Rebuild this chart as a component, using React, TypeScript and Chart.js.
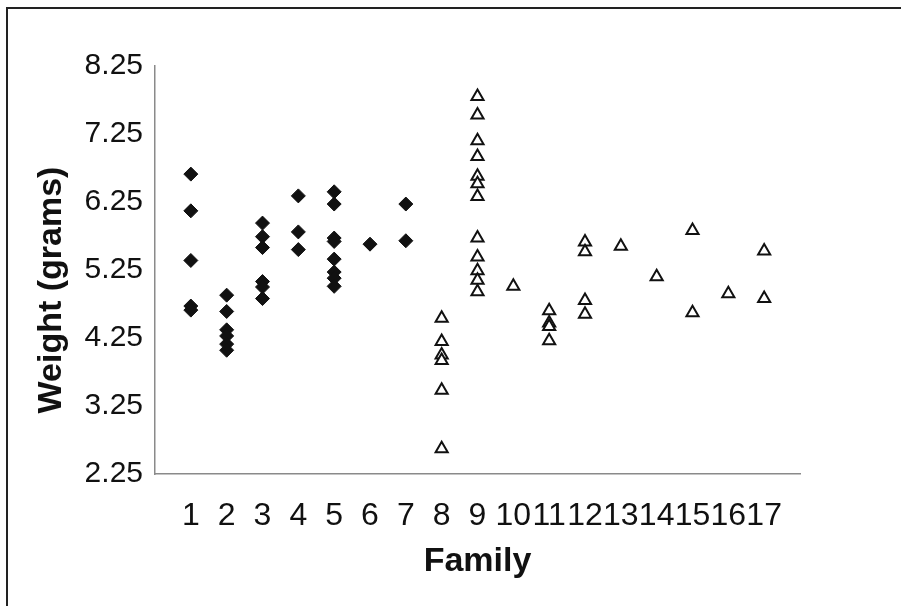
import React, { useEffect, useRef } from "react";
import { Chart, registerables } from "chart.js";

Chart.register(...registerables);

// Weight (grams) per family
const family1 = [6.66, 6.12, 5.39, 4.72, 4.66];
const family2 = [4.88, 4.64, 4.37, 4.28, 4.16, 4.07];
const family3 = [5.94, 5.74, 5.58, 5.08, 5.0, 4.83];
const family4 = [6.34, 5.81, 5.55];
const family5 = [6.4, 6.22, 5.72, 5.67, 5.41, 5.22, 5.13, 5.01];
const family6 = [5.63];
const family7 = [6.22, 5.68];
const family8 = [4.54, 4.2, 4.0, 3.92, 3.48, 2.62];
const family9 = [7.8, 7.53, 7.15, 6.92, 6.63, 6.52, 6.33, 5.72, 5.44, 5.24, 5.1, 4.93];
const family10 = [5.01];
const family11 = [4.65, 4.47, 4.42, 4.21];
const family12 = [5.66, 5.52, 4.8, 4.6];
const family13 = [5.6];
const family14 = [5.15];
const family15 = [5.83, 4.62];
const family16 = [4.9];
const family17 = [5.53, 4.83];

const diamondFamilies = [family1, family2, family3, family4, family5, family6, family7];
const triangleFamilies = [family8, family9, family10, family11, family12, family13, family14, family15, family16, family17];

const familyTicks = [1, 2, 3, 4, 5, 6, 7, 8, 9, 10, 11, 12, 13, 14, 15, 16, 17];
const weightTicks = [2.25, 3.25, 4.25, 5.25, 6.25, 7.25, 8.25];

const xTitle = "Family";
const yTitle = "Weight (grams)";

const FONT = "'Liberation Sans', Arial, Helvetica, sans-serif";

function toPoints(groups: number[][], firstFamily: number) {
  const pts: { x: number; y: number }[] = [];
  groups.forEach((g, i) => {
    g.forEach((w) => pts.push({ x: firstFamily + i, y: w }));
  });
  return pts;
}

// y-axis title, drawn a little below the axis centre as in the reference
const yTitlePlugin = {
  id: "yTitlePlugin",
  afterDraw(chart: any) {
    const ctx = chart.ctx;
    ctx.save();
    ctx.translate(52, 290);
    ctx.rotate(-Math.PI / 2);
    ctx.font = `bold 34px ${FONT}`;
    ctx.fillStyle = "#111";
    ctx.textAlign = "center";
    ctx.textBaseline = "middle";
    ctx.fillText(yTitle, 0, 0);
    ctx.restore();
  },
};

export default function App() {
  const ref = useRef<HTMLCanvasElement | null>(null);

  useEffect(() => {
    if (!ref.current) return;
    const chart = new Chart(ref.current, {
      type: "scatter",
      data: {
        datasets: [
          {
            label: "Families 1-7",
            data: toPoints(diamondFamilies, 1),
            pointStyle: "rectRot",
            pointRadius: 7,
            backgroundColor: "#111",
            borderColor: "#111",
            borderWidth: 1,
          },
          {
            label: "Families 8-17",
            data: toPoints(triangleFamilies, 8),
            pointStyle: "triangle",
            pointRadius: 7,
            backgroundColor: "#fff",
            borderColor: "#111",
            borderWidth: 2,
          },
        ],
      },
      options: {
        responsive: false,
        animation: false,
        layout: { padding: { top: 66, right: 101, left: 0, bottom: 0 } },
        plugins: {
          legend: { display: false },
          tooltip: { enabled: false },
        },
        scales: {
          x: {
            type: "linear",
            min: 0,
            max: 18,
            grid: { display: false, drawTicks: false },
            border: { display: true, color: "#8a8a8a", width: 1.5 },
            afterFit: (s: any) => {
              s.height = 132;
            },
            afterBuildTicks: (s: any) => {
              s.ticks = familyTicks.map((v) => ({ value: v }));
            },
            ticks: {
              padding: 23,
              color: "#111",
              font: { family: FONT, size: 32 },
              autoSkip: false,
              maxRotation: 0,
              callback: (v: any) => String(v),
            },
            title: {
              display: true,
              text: xTitle,
              color: "#111",
              font: { family: FONT, size: 34, weight: "bold" },
              padding: { top: 0, bottom: 24 },
            },
          },
          y: {
            type: "linear",
            min: 2.25,
            max: 8.25,
            grid: { display: false, drawTicks: false },
            border: { display: true, color: "#8a8a8a", width: 1.5 },
            afterFit: (s: any) => {
              s.width = 155;
            },
            afterBuildTicks: (s: any) => {
              s.ticks = weightTicks.map((v) => ({ value: v }));
            },
            ticks: {
              padding: 12,
              color: "#111",
              font: { family: FONT, size: 30 },
              callback: (v: any) => Number(v).toFixed(2),
            },
            title: { display: false, text: yTitle },
          },
        },
      },
      plugins: [yTitlePlugin],
    });
    return () => chart.destroy();
  }, []);

  return (
    <div
      style={{
        position: "absolute",
        left: 0,
        top: 0,
        width: 901,
        height: 606,
        background: "#fff",
        overflow: "hidden",
      }}
    >
      <div
        style={{
          position: "absolute",
          left: 6,
          top: 7,
          width: 900,
          height: 605,
          borderTop: "2px solid #222",
          borderLeft: "2px solid #222",
          boxSizing: "border-box",
        }}
      />
      <canvas
        ref={ref}
        width={901}
        height={606}
        style={{ position: "absolute", left: 0, top: 0, display: "block" }}
      />
    </div>
  );
}
